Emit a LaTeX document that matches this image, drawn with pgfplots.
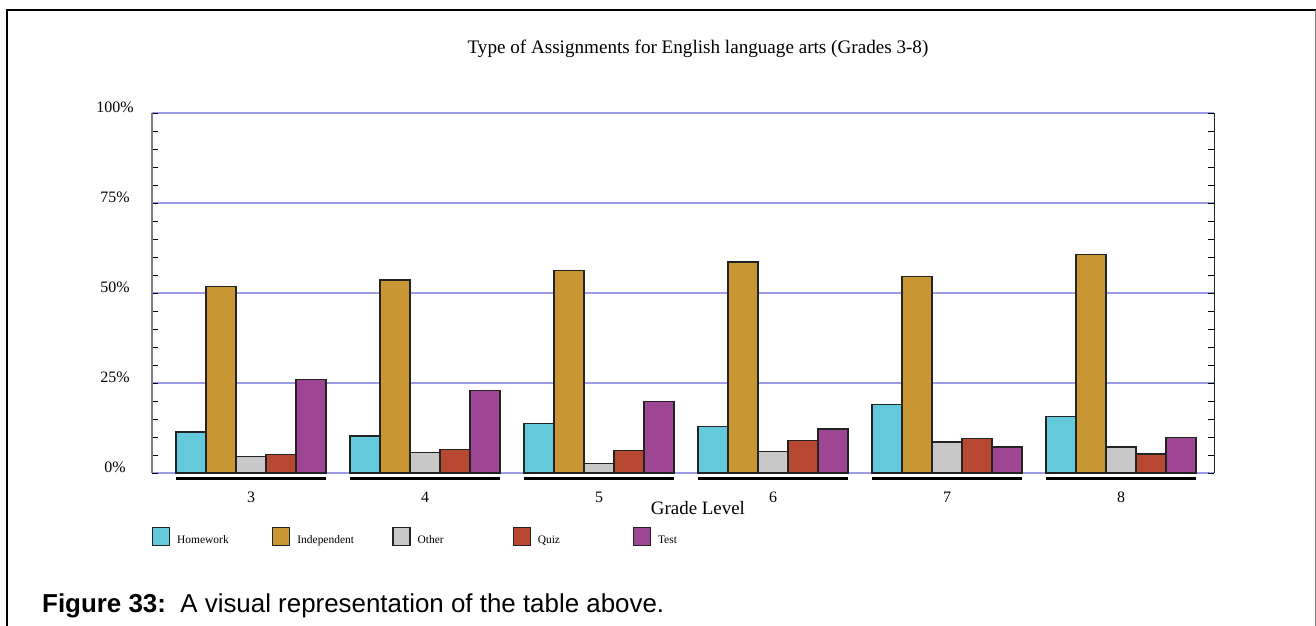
\documentclass[border=0pt]{standalone}
\usepackage{pgfplots}
\usepackage{pgfplotstable}
\pgfplotsset{compat=1.18}
\usepackage{fontspec}
\setmainfont{Liberation Serif}
\newfontfamily\arialfont{Liberation Sans}
\definecolor{hwc}{RGB}{99,201,219}
\definecolor{indc}{RGB}{200,150,50}
\definecolor{othc}{RGB}{200,200,200}
\definecolor{quizc}{RGB}{183,72,50}
\definecolor{testc}{RGB}{158,70,148}
\definecolor{edgec}{RGB}{35,35,35}
\definecolor{gridc}{RGB}{155,155,232}

\pgfplotstableread{
x hw ind oth quiz test
0 11.4 51.9 4.6 5.2 26.0
1 10.3 53.6 5.6 6.6 23.0
2 13.7 56.3 2.6 6.3 19.9
3 13.0 58.6 6.0 9.0 12.2
4 19.0 54.6 8.6 9.6 7.2
5 15.6 60.6 7.2 5.3 9.9
}\datatable

\begin{document}
\begin{tikzpicture}
\path[use as bounding box] (0bp,0bp) rectangle (1316bp,626bp);
\draw[line width=2.5bp] (7bp,0bp) -- (7bp,616bp) -- (1316bp,616bp);
\draw[gray, line width=1bp] (1315bp,616bp) -- (1315bp,0bp);
\node[anchor=base west, inner sep=0pt, font=\arialfont\fontsize{26}{30}\selectfont] at (42bp,14bp) {\textbf{Figure 33:}\ \ A visual representation of the table above.};
\begin{axis}[
  at={(152bp,153bp)}, anchor=south west,
  scale only axis, width=1062bp, height=360bp,
  xmin=-0.569, xmax=5.5345, ymin=0, ymax=100,
  clip=false,
  axis line style={draw=none},
  xtick={0,...,5}, xticklabels={3,4,5,6,7,8},
  xtick style={draw=none},
  xticklabel style={anchor=base, yshift=-30bp, font=\fontsize{16}{18}\selectfont},
  ytick={0,25,50,75,100}, yticklabels={0\%,25\%,50\%,75\%,100\%},
  minor ytick={5,10,15,20,30,35,40,45,55,60,65,70,80,85,90,95},
  yticklabel pos=left,
  yticklabel style={anchor=base, xshift=-37bp, font=\fontsize{16}{18}\selectfont},
  tick align=inside,
  major tick length=6bp, minor tick length=6bp,
  ytick style={black, line width=0.9bp},
  ymajorgrids, grid style={gridc, line width=1.1bp},
  legend columns=5,
  legend cell align=left,
  legend style={at={(0,0)}, anchor=north west, yshift=-54bp, draw=none, fill=none,
    inner sep=0pt, outer sep=0pt, nodes={inner sep=0pt},
    font=\fontsize{11.5}{13}\selectfont,
    /tikz/every odd column/.append style={column sep=7bp}},
  legend image code/.code={\draw[#1] (0bp,-5.5bp) rectangle (17bp,12.5bp);},
]
\addplot[ybar, bar width=0.17241, bar shift=-0.34482, fill=hwc, draw=edgec, line width=1.2bp] table[x=x,y=hw]{\datatable};
\addlegendentry{\makebox[95bp][l]{Homework}}
\addplot[ybar, bar width=0.17241, bar shift=-0.17241, fill=indc, draw=edgec, line width=1.2bp] table[x=x,y=ind]{\datatable};
\addlegendentry{\makebox[95bp][l]{Independent}}
\addplot[ybar, bar width=0.17241, bar shift=0, fill=othc, draw=edgec, line width=1.2bp] table[x=x,y=oth]{\datatable};
\addlegendentry{\makebox[95bp][l]{Other}}
\addplot[ybar, bar width=0.17241, bar shift=0.17241, fill=quizc, draw=edgec, line width=1.2bp] table[x=x,y=quiz]{\datatable};
\addlegendentry{\makebox[95bp][l]{Quiz}}
\addplot[ybar, bar width=0.17241, bar shift=0.34482, fill=testc, draw=edgec, line width=1.2bp] table[x=x,y=test]{\datatable};
\addlegendentry{\makebox[95bp][l]{Test}}
\addplot[sharp plot, black, line width=3bp, forget plot, unbounded coords=jump, mark=none] coordinates {
(-0.431,-1.39) (0.431,-1.39) (0.5,nan)
(0.569,-1.39) (1.431,-1.39) (1.5,nan)
(1.569,-1.39) (2.431,-1.39) (2.5,nan)
(2.569,-1.39) (3.431,-1.39) (3.5,nan)
(3.569,-1.39) (4.431,-1.39) (4.5,nan)
(4.569,-1.39) (5.431,-1.39)};
\draw[gray, line width=1.6bp] (rel axis cs:0,0) -- (rel axis cs:0,1);
\draw[black!85, line width=1bp] (rel axis cs:1,0) -- (rel axis cs:1,1);
\node[anchor=base, inner sep=0pt, yshift=59bp, font=\fontsize{19.2}{22}\selectfont] at (rel axis cs:0.5141,1) {Type of Assignments for English language arts (Grades 3-8)};
\node[anchor=base, inner sep=0pt, yshift=-42bp, font=\fontsize{19}{22}\selectfont] at (rel axis cs:0.5141,0) {Grade Level};
\end{axis}
\end{tikzpicture}
\end{document}
